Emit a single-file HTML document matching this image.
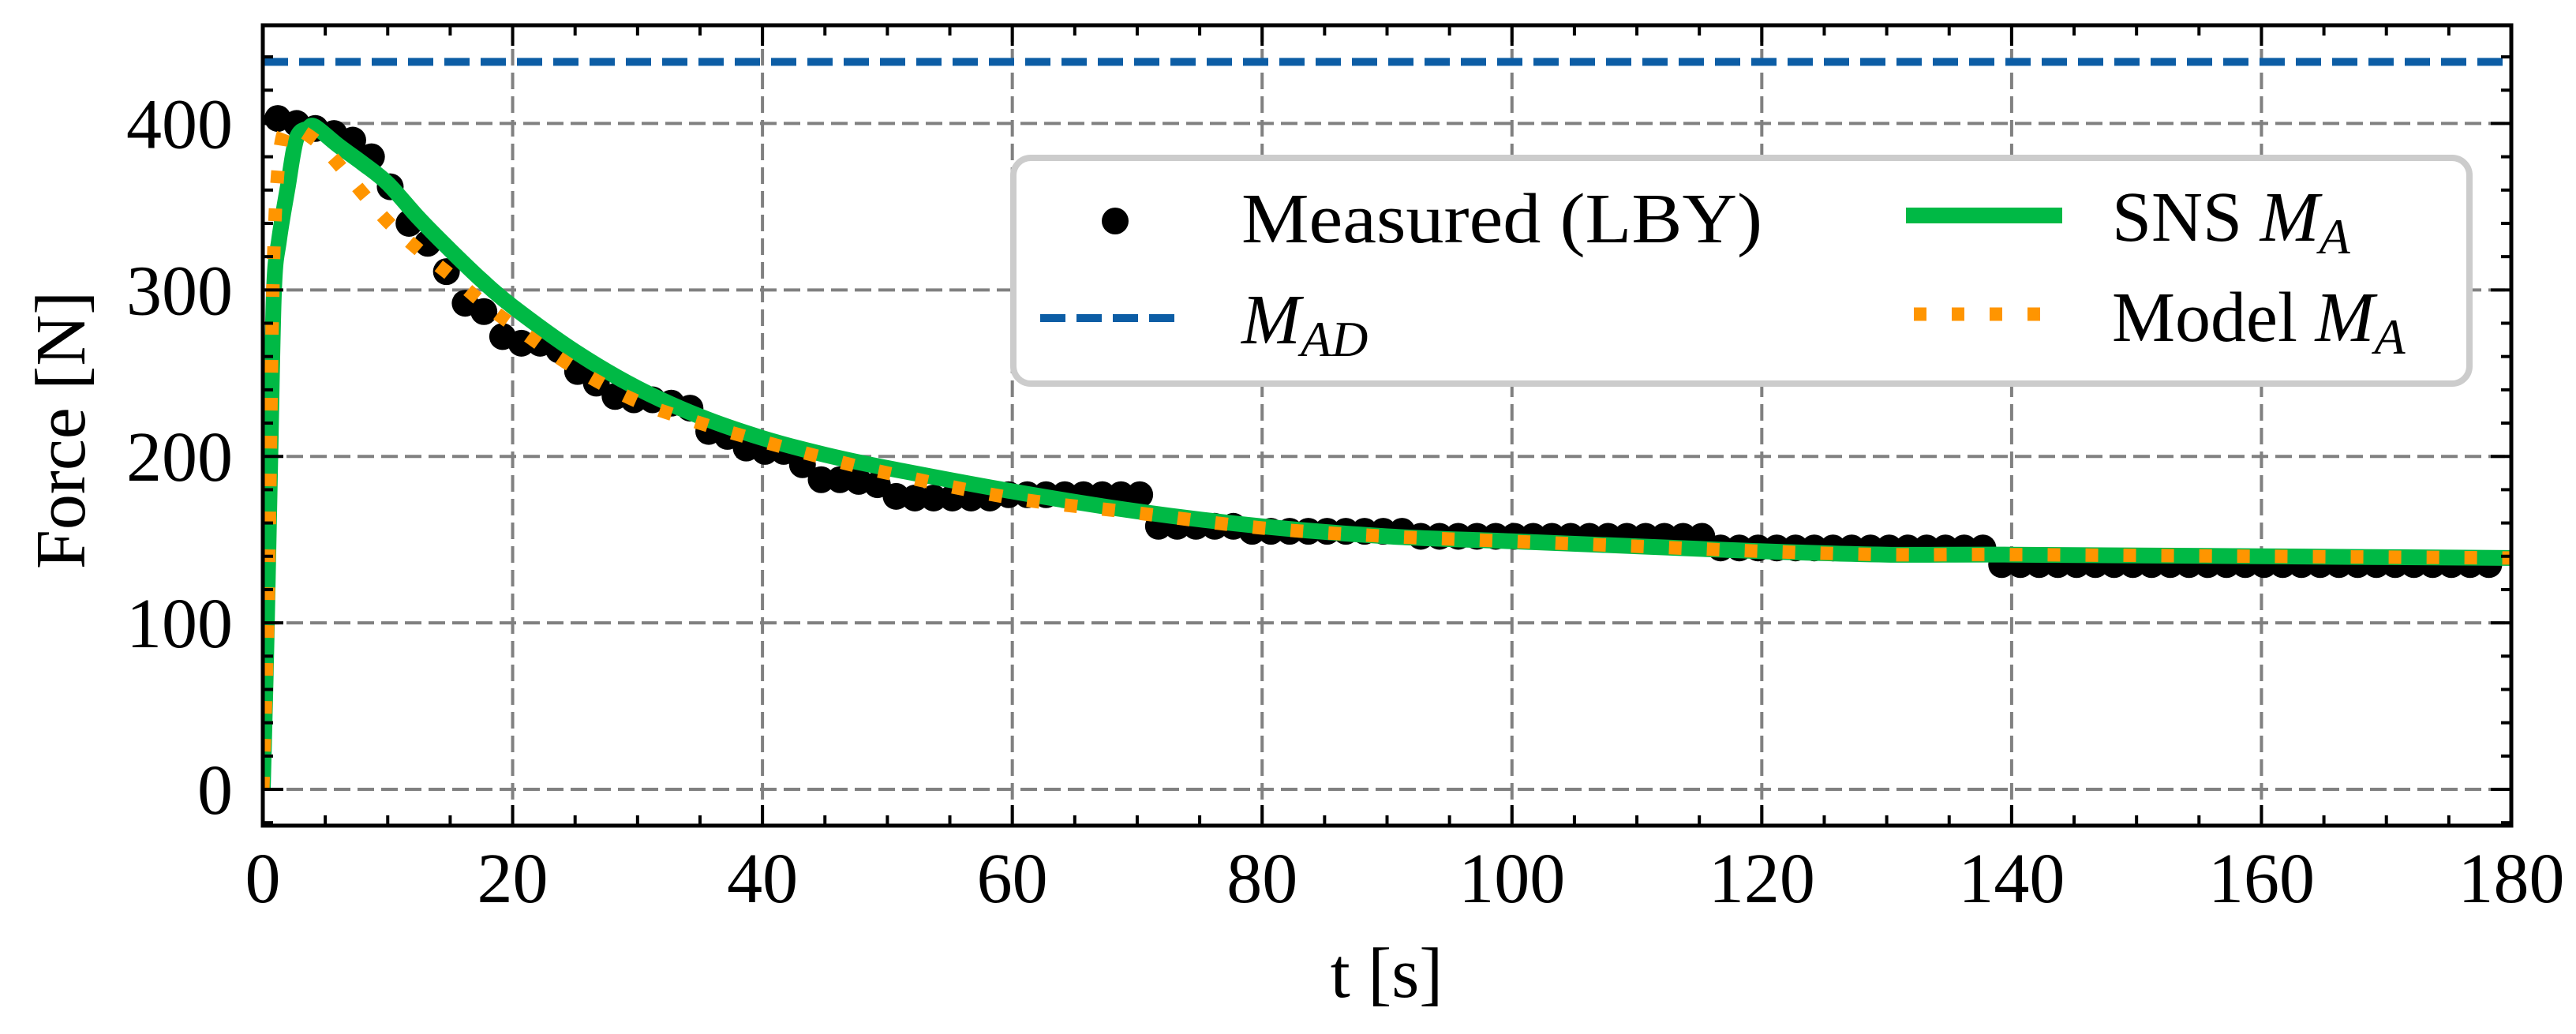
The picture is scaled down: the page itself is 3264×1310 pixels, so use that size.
<!DOCTYPE html>
<html><head><meta charset="utf-8"><style>
html,body{margin:0;padding:0;background:#fff;}
svg{display:block;font-family:"Liberation Serif",serif;}
</style></head><body>
<svg id="chart" width="3264" height="1310" viewBox="0 0 3264 1310" xmlns="http://www.w3.org/2000/svg">
<defs><clipPath id="plotclip"><rect x="333" y="32" width="2849" height="1014"/></clipPath></defs>
<rect x="0" y="0" width="3264" height="1310" fill="#fff"/>
<g id="grid"></g>
<g id="series" clip-path="url(#plotclip)"></g>
<g id="axes"></g>
<g id="legend">
  <rect x="1284" y="200" width="1845" height="286" rx="22" fill="#fff" stroke="#cccccc" stroke-width="8"/>
  <circle cx="1413" cy="280" r="17" fill="#000"/>
  <text x="1573" y="307" font-size="90" textLength="660" lengthAdjust="spacingAndGlyphs">Measured (LBY)</text>
  <line x1="1318" y1="403" x2="1500" y2="403" stroke="#0c5da5" stroke-width="10" stroke-dasharray="32 14"/>
  <text x="1573" y="435" font-size="90" font-style="italic">M<tspan font-size="64" dy="16">AD</tspan></text>
  <line x1="2415" y1="273" x2="2613" y2="273" stroke="#00b945" stroke-width="20"/>
  <text x="2676" y="305" font-size="90">SNS <tspan font-style="italic">M</tspan><tspan font-style="italic" font-size="64" dy="16">A</tspan></text>
  <line x1="2425" y1="398" x2="2600" y2="398" stroke="#ff9500" stroke-width="17" stroke-dasharray="16 32"/>
  <text x="2676" y="432" font-size="90">Model <tspan font-style="italic">M</tspan><tspan font-style="italic" font-size="64" dy="16">A</tspan></text>
</g>
<text x="1757" y="1263" font-size="90" text-anchor="middle">t [s]</text>
<text x="0" y="0" font-size="90" text-anchor="middle" transform="translate(107,545) rotate(-90)">Force [N]</text>
</svg>
<script>
const measuredT = [1.2,2.7,4.2,5.7,7.2,8.7,10.2,11.7,13.2,14.7,16.2,17.7,19.2,20.7,22.2,23.7,25.2,26.7,28.2,29.7,31.2,32.7,34.2,35.7,37.2,38.7,40.2,41.7,43.2,44.7,46.2,47.7,49.2,50.7,52.2,53.7,55.2,56.7,58.2,59.7,61.2,62.7,64.2,65.7,67.2,68.7,70.2,71.7,73.2,74.7,76.2,77.7,79.2,80.7,82.2,83.7,85.2,86.7,88.2,89.7,91.2,92.7,94.2,95.7,97.2,98.7,100.2,101.7,103.2,104.7,106.2,107.7,109.2,110.7,112.2,113.7,115.2,116.7,118.2,119.7,121.2,122.7,124.2,125.7,127.2,128.7,130.2,131.7,133.2,134.7,136.2,137.7,139.2,140.7,142.2,143.7,145.2,146.7,148.2,149.7,151.2,152.7,154.2,155.7,157.2,158.7,160.2,161.7,163.2,164.7,166.2,167.7,169.2,170.7,172.2,173.7,175.2,176.7,178.2];
const measuredF = [403,400,397,394,390,380,362,340,328,311,292,287,272,268,268,264,251,244,236,234,234,232,229,215,212,205,203,203,195,186,186,185,183,176,175,175,175,175,175,177,177,177,177,177,177,177,177,158,158,158,158,158,155,155,155,155,155,155,155,155,155,152,152,152,152,152,152,152,152,152,152,152,152,152,152,152,152,145,145,145,145,145,145,145,145,145,145,145,145,145,145,145,135,135,135,135,135,135,135,135,135,135,135,135,135,135,135,135,135,135,135,135,135,135,135,135,135,135,135];
const snsT = [0,0.3,0.6,0.9,1.3,2.0,2.7,3.6,4.2,6,8,10,12.5,15,17.5,20,25,30,35,40,45,50,60,70,80,90,100,110,120,130,140,160,180];
const snsF = [0,90,200,300,330,362,391,397,398,387,376,364,343,324,306,290,263,241,224,211,201,193,179,167,158,152,149,146,143,141,141,140,139];
const modelT = [0,0.4,0.6,0.8,1.1,1.6,2.5,3,4.5,6,8,10,12.5,15,17.5,20,25,30,35,40,45,50,60,70,80,90,100,110,120,130,140,160,180];
const modelF = [0,100,200,300,360,393,397,396,388,376,358,341,324,309,293,279,253,233,220,209,199,190,175,166,157,152,149,146,143,141,141,140,139];
const madValue = [437];
const xTicks = [0,20,40,60,80,100,120,140,160,180];
const yTicks = [0,100,200,300,400];

const NS = "http://www.w3.org/2000/svg";
const L=333,R=3182,T=32,B=1046;
const xMin=0,xMax=180,yMin=-21.8,yMax=459;
function sx(v){return L+(v-xMin)/(xMax-xMin)*(R-L);}
function sy(v){return B-(v-yMin)/(yMax-yMin)*(B-T);}
function mk(tag,attrs,parent){const e=document.createElementNS(NS,tag);for(const k in attrs)e.setAttribute(k,attrs[k]);parent.appendChild(e);return e;}
const grid=document.getElementById('grid'),series=document.getElementById('series'),axes=document.getElementById('axes');

xTicks.forEach(v=>{
  const g=mk('line',{x1:sx(v),x2:sx(v),y1:T,y2:B,stroke:'#808080','stroke-width':4,'stroke-dasharray':'21 9'},grid);
  
  
});
yTicks.forEach(v=>{
  const g=mk('line',{x1:L,x2:R,y1:sy(v),y2:sy(v),stroke:'#808080','stroke-width':4,'stroke-dasharray':'21 9'},grid);
  
  
});

const mad=mk('line',{x1:L,x2:R,y1:sy(madValue[0]),y2:sy(madValue[0]),stroke:'#0c5da5','stroke-width':10,'stroke-dasharray':'32 14'},series);



measuredT.forEach((t,i)=>{
  const c=mk('circle',{cx:sx(t),cy:sy(measuredF[i]),r:17,fill:'#000'},series);
  
  
});

function smoothPath(ts,fs){
  const p=ts.map((t,i)=>[sx(t),sy(fs[i])]);
  let d='M'+p[0][0].toFixed(1)+' '+p[0][1].toFixed(1);
  for(let i=0;i<p.length-1;i++){
    const p0=p[Math.max(0,i-1)],p1=p[i],p2=p[i+1],p3=p[Math.min(p.length-1,i+2)];
    const c1=[p1[0]+(p2[0]-p0[0])/6,p1[1]+(p2[1]-p0[1])/6];
    const c2=[p2[0]-(p3[0]-p1[0])/6,p2[1]-(p3[1]-p1[1])/6];
    d+=' C'+c1[0].toFixed(1)+' '+c1[1].toFixed(1)+' '+c2[0].toFixed(1)+' '+c2[1].toFixed(1)+' '+p2[0].toFixed(1)+' '+p2[1].toFixed(1);
  }
  return d;
}
const sns=mk('path',{d:smoothPath(snsT,snsF),fill:'none',stroke:'#00b945','stroke-width':20,'stroke-linejoin':'round'},series);


const model=mk('path',{d:smoothPath(modelT,modelF),fill:'none',stroke:'#ff9500','stroke-width':17,'stroke-dasharray':'16 32'},series);



const fr=mk('rect',{x:L,y:T,width:R-L,height:B-T,fill:'none',stroke:'#000','stroke-width':5},axes);



for(let v=0;v<=180;v+=5){
  const major=(v%20===0);const len=major?26:13;
  [[B,-1],[T,1]].forEach(([y0,d])=>{
    const tk=mk('line',{x1:sx(v),x2:sx(v),y1:y0,y2:y0+d*len,stroke:'#000','stroke-width':4},axes);
    
    
  });
}
for(let v=-20;v<=440;v+=20){
  const major=(v%100===0);const len=major?26:13;
  [[L,1],[R,-1]].forEach(([x0,d])=>{
    const tk=mk('line',{x1:x0,x2:x0+d*len,y1:sy(v),y2:sy(v),stroke:'#000','stroke-width':4},axes);
    
    
  });
}
xTicks.forEach(v=>{
  const t=mk('text',{x:sx(v),y:1143,'font-size':90,'text-anchor':'middle'},axes);
  t.textContent=String(v);
  
  
});
yTicks.forEach(v=>{
  const t=mk('text',{x:295,y:sy(v)+31,'font-size':90,'text-anchor':'end'},axes);
  t.textContent=String(v);
  
  
});
</script>
</body></html>
